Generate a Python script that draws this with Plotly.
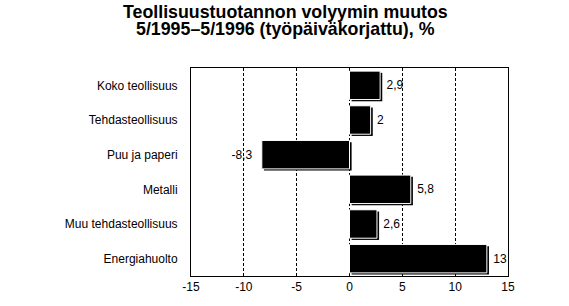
import plotly.graph_objects as go

categories = ["Koko teollisuus", "Tehdasteollisuus", "Puu ja paperi", "Metalli",
              "Muu tehdasteollisuus", "Energiahuolto"]
values = [2.9, 2.0, -8.3, 5.8, 2.6, 13.0]
labels = [(" " + ("%g" % v).replace(".", ",")) if v >= 0 else (("%g" % v).replace(".", ",") + "  ")
          for v in values]
tick_vals = [-15, -10, -5, 0, 5, 10, 15]
title_lines = ["Teollisuustuotannon volyymin muutos", "5/1995–5/1996 (työpäiväkorjattu), %"]

shift = 0.2  # shadow shift (axis units)

fig = go.Figure()
fig.add_trace(go.Bar(
    y=categories, x=values, base=[shift] * len(values), orientation="h",
    width=0.82, offset=-0.36, marker=dict(color="black", line=dict(width=0)),
    hoverinfo="skip", showlegend=False,
))
fig.add_trace(go.Bar(
    y=categories, x=values, orientation="h", width=0.82, offset=-0.41,
    marker=dict(color="black", line=dict(color="white", width=1)),
    text=labels, textposition="outside", cliponaxis=False,
    textfont=dict(family="Liberation Sans, Arial", size=12, color="black"),
    showlegend=False,
))
for line, pix in zip(title_lines, [10, 28]):
    fig.add_annotation(
        text="<b>" + line + "</b>",
        xref="paper", yref="paper", x=(285 - 191) / 317, y=(283 - pix) / 215,
        xanchor="center", yanchor="middle", showarrow=False,
        font=dict(size=17.8, family="Liberation Sans, Arial", color="black"),
    )
fig.update_layout(
    width=569, height=306, barmode="overlay",
    margin=dict(l=191, r=61, t=68, b=23),
    paper_bgcolor="white", plot_bgcolor="white",
    font=dict(family="Liberation Sans, Arial", size=12, color="black"),
    xaxis=dict(range=[-15, 15], tickvals=tick_vals, ticktext=[str(t) for t in tick_vals],
               showgrid=True, gridcolor="black", griddash="3px,2px", gridwidth=1,
               zeroline=False, showline=True, linecolor="black", linewidth=1, mirror=True,
               ticks="", tickfont=dict(size=12)),
    yaxis=dict(autorange="reversed", showgrid=False, showline=True, linecolor="black",
               linewidth=1, mirror=True, ticks="", ticksuffix="   ", tickfont=dict(size=12)),
)
fig.write_html("out.html")
